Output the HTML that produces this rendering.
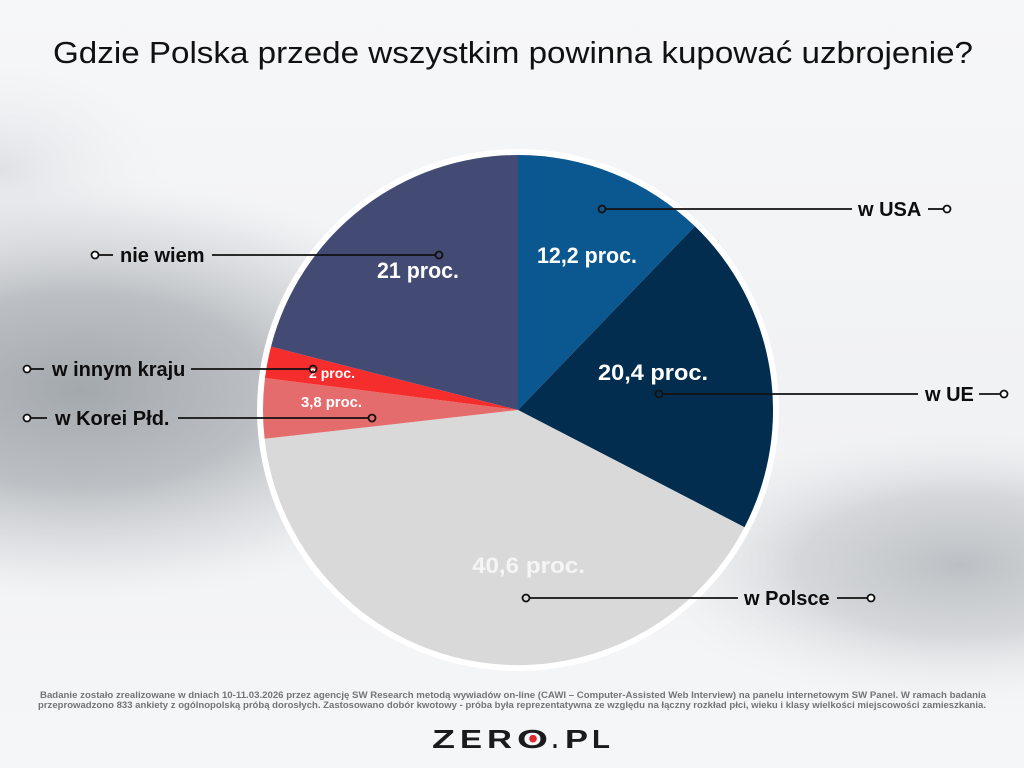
<!DOCTYPE html>
<html>
<head>
<meta charset="utf-8">
<style>
  html, body { margin: 0; padding: 0; width: 1024px; height: 768px; overflow: hidden; background: #f4f5f7; }
  svg { display: block; }
  .lbl { font-family: "Liberation Sans", Arial, sans-serif; font-weight: bold; font-size: 20px; fill: #0d0d0d; }
  .pct { font-family: "Liberation Sans", Arial, sans-serif; font-weight: bold; fill: #ffffff; }
  .foot { font-family: "Liberation Sans", Arial, sans-serif; font-weight: bold; font-size: 9px; fill: #747474; }
  .logo { font-family: "Liberation Sans", Arial, sans-serif; font-weight: bold; font-size: 26px; fill: #1b1b1d; }
</style>
</head>
<body>
<svg width="1024" height="768" viewBox="0 0 1024 768" xmlns="http://www.w3.org/2000/svg">
  <defs>
    <radialGradient id="gl">
      <stop offset="0" stop-color="#a3a8ad"/>
      <stop offset="0.45" stop-color="#b7bbbf" stop-opacity="0.92"/>
      <stop offset="0.8" stop-color="#d6d9dc" stop-opacity="0.5"/>
      <stop offset="1" stop-color="#eceef0" stop-opacity="0"/>
    </radialGradient>
    <radialGradient id="gr">
      <stop offset="0" stop-color="#bcc0c4"/>
      <stop offset="0.5" stop-color="#cdd0d3" stop-opacity="0.8"/>
      <stop offset="1" stop-color="#e9ebed" stop-opacity="0"/>
    </radialGradient>
    <radialGradient id="gt">
      <stop offset="0" stop-color="#dfe2e5"/>
      <stop offset="1" stop-color="#eceef0" stop-opacity="0"/>
    </radialGradient>
    <linearGradient id="base" x1="0" y1="0" x2="0" y2="1">
      <stop offset="0" stop-color="#f6f7f8"/>
      <stop offset="0.5" stop-color="#f1f2f4"/>
      <stop offset="1" stop-color="#f5f6f7"/>
    </linearGradient>
  </defs>

  <!-- background -->
  <rect x="0" y="0" width="1024" height="768" fill="url(#base)"/>
  <ellipse cx="0" cy="170" rx="160" ry="110" fill="url(#gt)"/>
  <ellipse cx="80" cy="390" rx="420" ry="215" fill="url(#gl)"/>
  <ellipse cx="960" cy="565" rx="320" ry="140" fill="url(#gr)"/>

  <!-- title -->
  <text x="53" y="63" font-family="'Liberation Sans', Arial, sans-serif" font-size="31" fill="#111" textLength="920" lengthAdjust="spacingAndGlyphs">Gdzie Polska przede wszystkim powinna kupować uzbrojenie?</text>

  <!-- pie -->
  <circle cx="518" cy="410" r="261" fill="#ffffff"/>
  <path d="M518,410 L518,155 A255,255 0 0 1 694.9,226.3 Z" fill="#0b5890"/>
  <path d="M518,410 L694.9,226.3 A255,255 0 0 1 744.5,527.2 Z" fill="#022d4f"/>
  <path d="M518,410 L744.5,527.2 A255,255 0 0 1 264.6,438.8 Z" fill="#d9d9d9"/>
  <path d="M518,410 L264.6,438.8 A255,255 0 0 1 265.0,378.0 Z" fill="#e56c6c"/>
  <path d="M518,410 L265.0,378.0 A255,255 0 0 1 271.0,346.6 Z" fill="#f52d2d"/>
  <path d="M518,410 L271.0,346.6 A255,255 0 0 1 518,155 Z" fill="#434a73"/>

  <!-- percentage labels -->
  <text class="pct" x="537" y="263" font-size="22" textLength="100" lengthAdjust="spacingAndGlyphs">12,2 proc.</text>
  <text class="pct" x="598" y="380" font-size="22" textLength="110" lengthAdjust="spacingAndGlyphs">20,4 proc.</text>
  <text class="pct" x="377" y="278" font-size="22" textLength="82" lengthAdjust="spacingAndGlyphs">21 proc.</text>
  <text class="pct" x="472" y="573" font-size="22" textLength="113" lengthAdjust="spacingAndGlyphs" style="fill:#f5f5f5">40,6 proc.</text>
  <text class="pct" x="309" y="378" font-size="14" textLength="46" lengthAdjust="spacingAndGlyphs">2 proc.</text>
  <text class="pct" x="301" y="407" font-size="15" textLength="61" lengthAdjust="spacingAndGlyphs">3,8 proc.</text>

  <!-- leader lines -->
  <g stroke="#111" stroke-width="1.8" fill="none">
    <line x1="605.5" y1="209" x2="852" y2="209"/>
    <line x1="928" y1="209" x2="943.5" y2="209"/>
    <line x1="662.5" y1="394" x2="918" y2="394"/>
    <line x1="979" y1="394" x2="1000.5" y2="394"/>
    <line x1="529.5" y1="598" x2="738" y2="598"/>
    <line x1="837" y1="598" x2="867.5" y2="598"/>
    <line x1="98.5" y1="255" x2="113" y2="255"/>
    <line x1="212" y1="255" x2="435.5" y2="255"/>
    <line x1="30.5" y1="369" x2="44" y2="369"/>
    <line x1="191" y1="369" x2="309.5" y2="369"/>
    <line x1="30.5" y1="418" x2="47" y2="418"/>
    <line x1="178" y1="418" x2="368.5" y2="418"/>
  </g>
  <g stroke="#111" stroke-width="1.8">
    <circle cx="602" cy="209" r="3.5" fill="none"/>
    <circle cx="659" cy="394" r="3.5" fill="none"/>
    <circle cx="526" cy="598" r="3.5" fill="none"/>
    <circle cx="439" cy="255" r="3.5" fill="none"/>
    <circle cx="313" cy="369" r="3.5" fill="none"/>
    <circle cx="372" cy="418" r="3.5" fill="none"/>
    <circle cx="947" cy="209" r="3.5" fill="#fff"/>
    <circle cx="1004" cy="394" r="3.5" fill="#fff"/>
    <circle cx="871" cy="598" r="3.5" fill="#fff"/>
    <circle cx="95" cy="255" r="3.5" fill="#fff"/>
    <circle cx="27" cy="369" r="3.5" fill="#fff"/>
    <circle cx="27" cy="418" r="3.5" fill="#fff"/>
  </g>

  <!-- category labels -->
  <text class="lbl" x="858" y="216">w USA</text>
  <text class="lbl" x="925" y="401">w UE</text>
  <text class="lbl" x="744" y="605">w Polsce</text>
  <text class="lbl" x="120" y="262">nie wiem</text>
  <text class="lbl" x="52" y="376">w innym kraju</text>
  <text class="lbl" x="55" y="425">w Korei Płd.</text>

  <!-- footer -->
  <text class="foot" x="513" y="698" text-anchor="middle" textLength="946" lengthAdjust="spacingAndGlyphs">Badanie zostało zrealizowane w dniach 10-11.03.2026 przez agencję SW Research metodą wywiadów on-line (CAWI – Computer-Assisted Web Interview) na panelu internetowym SW Panel. W ramach badania</text>
  <text class="foot" x="512" y="708" text-anchor="middle" textLength="948" lengthAdjust="spacingAndGlyphs">przeprowadzono 833 ankiety z ogólnopolską próbą dorosłych. Zastosowano dobór kwotowy - próba była reprezentatywna ze względu na łączny rozkład płci, wieku i klasy wielkości miejscowości zamieszkania.</text>

  <!-- logo -->
  <text class="logo" x="432" y="748" textLength="23" lengthAdjust="spacingAndGlyphs">Z</text>
  <text class="logo" x="460" y="748" textLength="22" lengthAdjust="spacingAndGlyphs">E</text>
  <text class="logo" x="487" y="748" textLength="25" lengthAdjust="spacingAndGlyphs">R</text>
  <text class="logo" x="517" y="748" textLength="31" lengthAdjust="spacingAndGlyphs">O</text>
  <text class="logo" x="552" y="748" textLength="6" lengthAdjust="spacingAndGlyphs">.</text>
  <text class="logo" x="565" y="748" textLength="23" lengthAdjust="spacingAndGlyphs">P</text>
  <text class="logo" x="592" y="748" textLength="18" lengthAdjust="spacingAndGlyphs">L</text>
  <circle cx="533" cy="738.7" r="3.8" fill="#e3262d"/>
</svg>
</body>
</html>
